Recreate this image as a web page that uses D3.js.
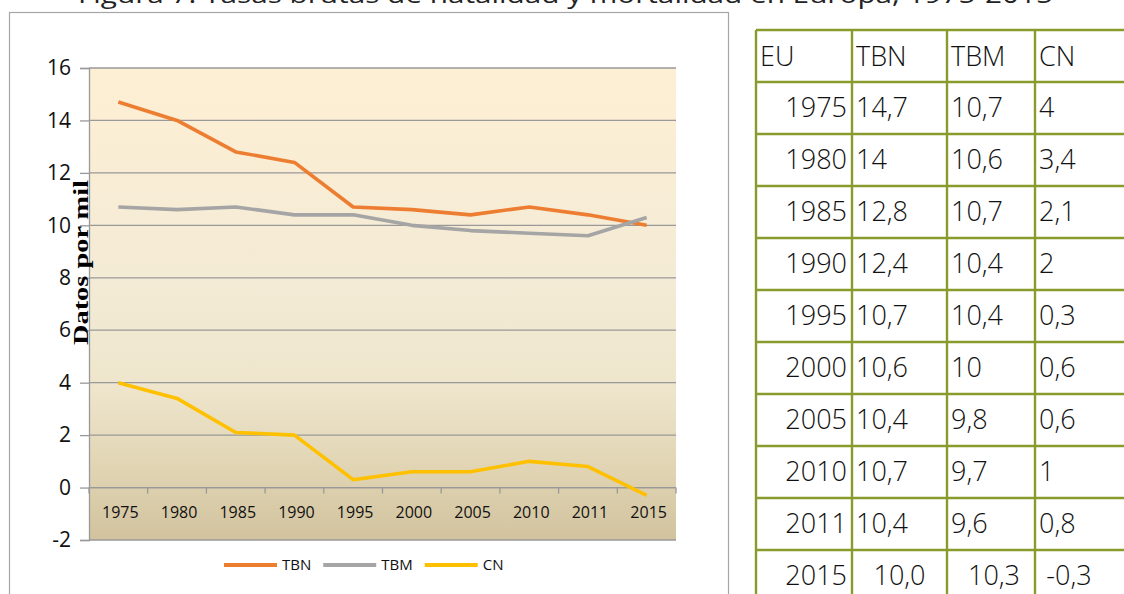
<!DOCTYPE html>
<html>
<head>
<meta charset="utf-8">
<script src="https://cdn.jsdelivr.net/npm/d3@7"></script>
<style>
  body { margin: 0; background: #fff; }
  svg { display: block; }
</style>
</head>
<body>
<div id="chart"></div>
<script>
const years = ["1975", "1980", "1985", "1990", "1995", "2000", "2005", "2010", "2011", "2015"];
const tbn = [14.7, 14, 12.8, 12.4, 10.7, 10.6, 10.4, 10.7, 10.4, 10.0];
const tbm = [10.7, 10.6, 10.7, 10.4, 10.4, 10, 9.8, 9.7, 9.6, 10.3];
const cn = [4, 3.4, 2.1, 2, 0.3, 0.6, 0.6, 1, 0.8, -0.3];
const yTicks = [-2, 0, 2, 4, 6, 8, 10, 12, 14, 16];
const seriesNames = ["TBN", "TBM", "CN"];
const seriesColors = ["#ed7d31", "#a5a5a5", "#ffc000"];
const tableHeader = ["EU", "TBN", "TBM", "CN"];

const W = 1124, H = 594;
const svg = d3.select("#chart").append("svg")
    .attr("width", W)
    .attr("height", H);

// title, cut off at the top of the picture (as in the original)
svg.append("text")
    .attr("x", 78)
    .attr("y", 3)
    .attr("textLength", 975)
    .attr("lengthAdjust", "spacingAndGlyphs")
    .style("font-family", "'Open Sans', sans-serif")
    .style("font-size", "24px")
    .attr("fill", "#222")
    .text("Figura 7. Tasas brutas de natalidad y mortalidad en Europa, 1975-2015");

// chart frame
svg.append("rect")
    .attr("x", 9.5).attr("y", 12.5)
    .attr("width", 719).attr("height", 600)
    .attr("fill", "#fff")
    .attr("stroke", "#a6a6a6")
    .attr("stroke-width", 1.2);

const plot = { left: 89, right: 676, top: 68, bottom: 540 };

const x = d3.scaleBand()
    .domain(years)
    .range([plot.left, plot.right]);

const y = d3.scaleLinear()
    .domain([-2, 16])
    .range([plot.bottom, plot.top]);

// hyphen instead of unicode minus, like the original
const hy = s => s.replace("\u2212", "-");

// background gradient
const defs = svg.append("defs");
const grad = defs.append("linearGradient")
    .attr("id", "bg")
    .attr("x1", 0).attr("y1", 0).attr("x2", 0).attr("y2", 1);
grad.append("stop").attr("offset", "0%").attr("stop-color", "#fdefd3");
grad.append("stop").attr("offset", "45%").attr("stop-color", "#f4ebd6");
grad.append("stop").attr("offset", "68%").attr("stop-color", "#eee5cc");
grad.append("stop").attr("offset", "85%").attr("stop-color", "#e0d4b3");
grad.append("stop").attr("offset", "100%").attr("stop-color", "#d2c39e");

svg.append("rect")
    .attr("x", plot.left).attr("y", plot.top)
    .attr("width", plot.right - plot.left)
    .attr("height", plot.bottom - plot.top)
    .attr("fill", "url(#bg)");

// gridlines
svg.append("g")
    .selectAll("line")
    .data(yTicks)
    .join("line")
    .attr("x1", plot.left).attr("x2", plot.right)
    .attr("y1", d => y(d)).attr("y2", d => y(d))
    .attr("stroke", "#999")
    .attr("stroke-width", 1.3);

// y axis
const yAxis = svg.append("g")
    .attr("transform", `translate(${plot.left},0)`)
    .call(d3.axisLeft(y).tickValues(yTicks).tickSize(9).tickPadding(9).tickFormat(d => hy(d3.format("d")(d))));
yAxis.selectAll("path, line").attr("stroke", "#999").attr("stroke-width", 1.3);
yAxis.selectAll("text")
    .style("font-family", "'Open Sans', sans-serif")
    .style("font-size", "21px")
    .attr("fill", "#111");

// x axis on the zero line, ticks between categories
const xAxis = svg.append("g")
    .attr("transform", `translate(0,${y(0)})`);
xAxis.append("line")
    .attr("x1", plot.left).attr("x2", plot.right)
    .attr("stroke", "#999").attr("stroke-width", 1.3);
xAxis.selectAll(".tk")
    .data(years.concat(["end"]))
    .join("line")
    .attr("class", "tk")
    .attr("x1", (d, i) => plot.left + i * x.bandwidth())
    .attr("x2", (d, i) => plot.left + i * x.bandwidth())
    .attr("y1", 0).attr("y2", 6)
    .attr("stroke", "#999").attr("stroke-width", 1.3);
xAxis.selectAll(".lb")
    .data(years)
    .join("text")
    .attr("class", "lb")
    .attr("x", d => x(d) + x.bandwidth() / 2 + 2)
    .attr("y", 30)
    .attr("text-anchor", "middle")
    .style("font-family", "'Open Sans', sans-serif")
    .style("font-size", "16px")
    .attr("fill", "#111")
    .text(d => d);

// y label
svg.append("text")
    .attr("transform", `translate(88,${(180 + 345) / 2}) rotate(-90)`)
    .attr("text-anchor", "middle")
    .attr("textLength", 165)
    .attr("lengthAdjust", "spacingAndGlyphs")
    .style("font-family", "'Liberation Serif', 'Times New Roman', serif")
    .style("font-weight", "bold")
    .style("font-size", "21px")
    .attr("fill", "#000")
    .text("Datos por mil");

// lines
const series = [tbn, tbm, cn];
const line = d3.line()
    .x((d, i) => x(years[i]) + x.bandwidth() / 2)
    .y(d => y(d));

svg.append("g")
    .selectAll("path")
    .data(series)
    .join("path")
    .attr("d", d => line(d))
    .attr("fill", "none")
    .attr("stroke", (d, i) => seriesColors[i])
    .attr("stroke-width", 3.6)
    .attr("stroke-linejoin", "round");

// legend
const legend = svg.append("g").attr("transform", "translate(0,565)");
let lx = 224;
seriesNames.forEach((name, i) => {
    legend.append("line")
        .attr("x1", lx).attr("x2", lx + 53)
        .attr("stroke", seriesColors[i])
        .attr("stroke-width", 4);
    const t = legend.append("text")
        .attr("x", lx + 58)
        .attr("y", 5)
        .style("font-family", "'Open Sans', sans-serif")
        .style("font-size", "15px")
        .attr("fill", "#111")
        .text(name);
    lx += 58 + t.node().getComputedTextLength() + 12;
});

// table
const colX = [756, 852, 947, 1035, 1134];
const rowH = 52, rowTop = 30;
const comma = v => String(v).replace(".", ",");
const rows = [tableHeader].concat(years.map((yr, i) => {
    const last = i === years.length - 1;
    const f = last ? (v => hy(d3.format(".1f")(v)).replace(".", ",")) : comma;
    return [yr, f(tbn[i]), f(tbm[i]), f(cn[i])];
}));

const table = svg.append("g");
const cellFont = "'Open Sans', sans-serif";
rows.forEach((row, r) => {
    const cy = rowTop + r * rowH + rowH / 2;
    const isLast = r === rows.length - 1;
    row.forEach((val, c) => {
        let tx, anchor;
        if (r === 0) { tx = colX[c] + 4; anchor = "start"; }
        else if (c === 0) { tx = colX[1] - 5; anchor = "end"; }
        else if (isLast) {
            const w = colX[c + 1] - colX[c];
            tx = colX[c] + (c === 3 ? 34 : w / 2 + (c === 2 ? 3 : 0));
            anchor = "middle";
        }
        else { tx = colX[c] + 4; anchor = "start"; }
        table.append("text")
            .attr("x", tx)
            .attr("y", cy + (r === 0 ? 1 : 0))
            .attr("dy", "0.35em")
            .attr("text-anchor", anchor)
            .style("font-family", cellFont)
            .style("font-size", "27px")
            .style("font-weight", 300)
            .attr("fill", "#111")
            .text(val);
    });
});

const lineCol = "#8a9a2c";
table.selectAll(".hl")
    .data(d3.range(rows.length + 1))
    .join("line")
    .attr("x1", colX[0]).attr("x2", colX[4])
    .attr("y1", d => rowTop + d * rowH).attr("y2", d => rowTop + d * rowH)
    .attr("stroke", lineCol).attr("stroke-width", 2.4);
table.selectAll(".vl")
    .data(colX)
    .join("line")
    .attr("x1", d => d).attr("x2", d => d)
    .attr("y1", rowTop).attr("y2", rowTop + rows.length * rowH)
    .attr("stroke", lineCol).attr("stroke-width", 2.4);
</script>
</body>
</html>
